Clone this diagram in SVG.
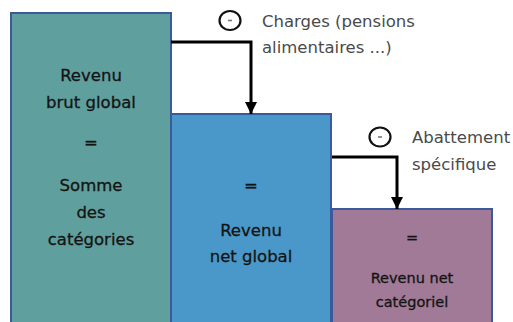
<svg xmlns="http://www.w3.org/2000/svg" width="513" height="322" viewBox="0 0 513 322">
  <defs>
    <marker id="arrow" viewBox="0 0 12 12" refX="12" refY="6" markerWidth="12" markerHeight="12" markerUnits="userSpaceOnUse" orient="auto">
      <path d="M0,0 L12,6 L0,12 Z" fill="#000"/>
    </marker>
    <style>
      .box { stroke: #3c5a99; stroke-width: 2; }
      .lbl { font-family: "DejaVu Sans", "Liberation Sans", sans-serif; font-size: 16.5px; fill: #141414; stroke: #141414; stroke-width: 0.3; text-anchor: middle; }
      .lbl.sm { font-size: 14.5px; }
      .side { font-family: "DejaVu Sans", "Liberation Sans", sans-serif; font-size: 16.5px; fill: #4a4a4a; }
      .minus-ring { fill: none; stroke: #111; stroke-width: 2.2; }
      .minus-bar { stroke: #777; stroke-width: 1.6; }
      .conn { fill: none; stroke: #000; stroke-width: 3; }
    </style>
  </defs>
  <rect width="513" height="322" fill="#fff"/>

  <!-- Revenu brut global -->
  <g id="brut">
    <rect class="box" x="11" y="13" width="160" height="320" fill="#5f9f9d"/>
    <text class="lbl" x="91" y="81">Revenu</text>
    <text class="lbl" x="91" y="108">brut global</text>
    <text class="lbl" x="91" y="148">=</text>
    <text class="lbl" x="91" y="191">Somme</text>
    <text class="lbl" x="91" y="218">des</text>
    <text class="lbl" x="91" y="245">catégories</text>
  </g>

  <!-- Revenu net global -->
  <g id="net-global">
    <rect class="box" x="171" y="114" width="160" height="220" fill="#4a98c9"/>
    <text class="lbl" x="251" y="191">=</text>
    <text class="lbl" x="251" y="236">Revenu</text>
    <text class="lbl" x="251" y="262">net global</text>
  </g>

  <!-- Revenu net catégoriel -->
  <g id="net-categoriel">
    <rect class="box" x="332" y="209" width="160" height="125" fill="#a07a97"/>
    <text class="lbl sm" x="412" y="243">=</text>
    <text class="lbl sm" x="412" y="283">Revenu net</text>
    <text class="lbl sm" x="412" y="307">catégoriel</text>
  </g>

  <!-- Deductions -->
  <g id="charges">
    <ellipse class="minus-ring" cx="230" cy="20.5" rx="10.5" ry="9.5"/>
    <line class="minus-bar" x1="228" y1="20.5" x2="232" y2="20.5"/>
    <text class="side" x="262" y="27">Charges (pensions</text>
    <text class="side" x="262" y="53">alimentaires ...)</text>
  </g>
  <g id="abattement">
    <ellipse class="minus-ring" cx="380" cy="137" rx="10.5" ry="9.5"/>
    <line class="minus-bar" x1="378" y1="137" x2="382" y2="137"/>
    <text class="side" x="412" y="143">Abattement</text>
    <text class="side" x="412" y="170">spécifique</text>
  </g>

  <g id="connectors">
    <path class="conn" d="M171,42 H251 V114" marker-end="url(#arrow)"/>
    <path class="conn" d="M332,157 H397 V209" marker-end="url(#arrow)"/>
  </g>
</svg>
